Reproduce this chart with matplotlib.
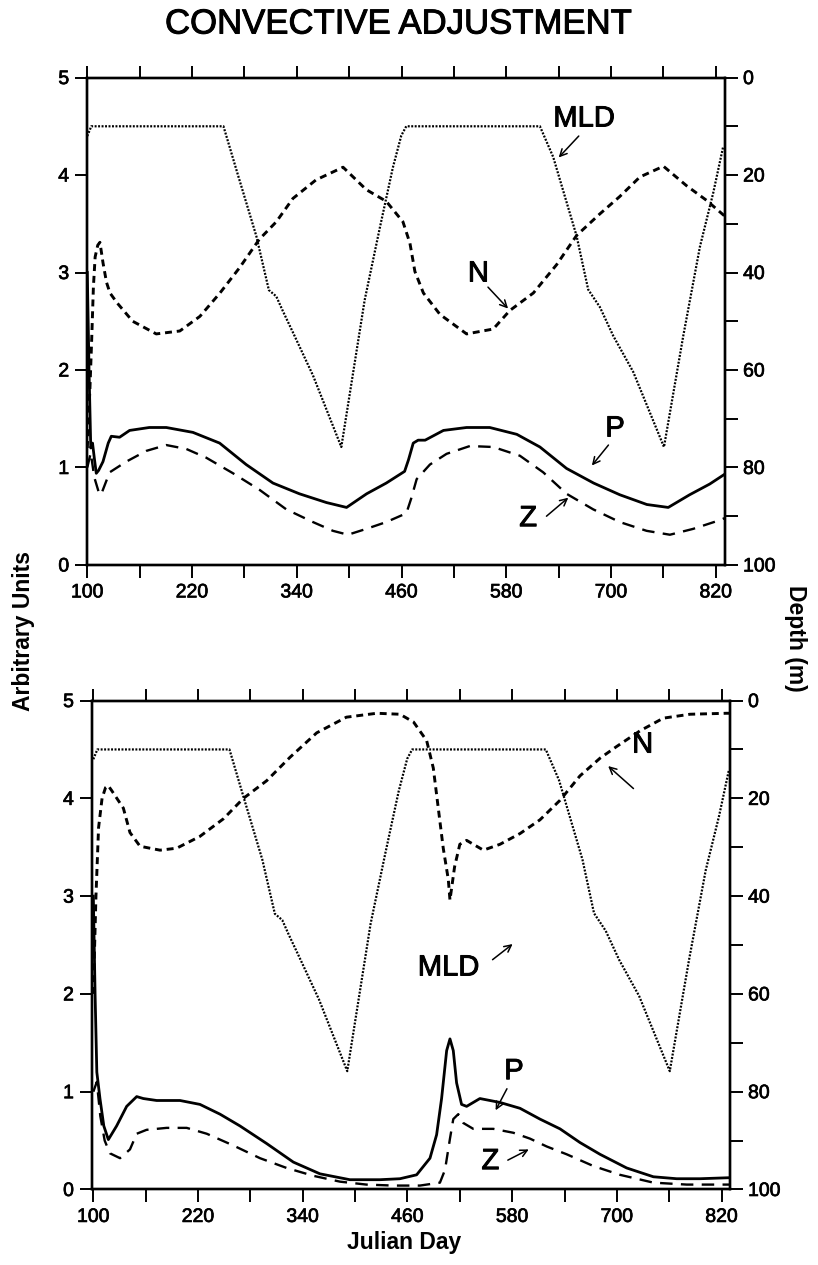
import matplotlib
matplotlib.use('Agg')
import matplotlib.pyplot as plt
import matplotlib.patheffects as pe
from matplotlib.ticker import FixedLocator

plt.rcParams['font.family'] = ['Liberation Sans', 'DejaVu Sans']
plt.rcParams['lines.scale_dashes'] = False

# ---- data ----
# mixed layer depth (m), same forcing in both runs
mld_day = [100, 104.6, 256, 272.6, 293.6, 308, 316.5, 324, 335.6, 358.5, 391, 417.7, 434.9, 450, 459.7,
           465.4, 618.5, 633.7, 660.5, 673.8, 687.2, 702.5, 725.4, 760.6, 782.7, 801.8, 817.1, 828.5]
mld_depth = [12, 10, 10, 20, 32.5, 43.6, 44.9, 47.9, 52.3, 61.1, 75.8, 45.7, 31, 18.5, 11.9,
             10, 10, 16.3, 32.5, 43.5, 47.1, 53, 60.4, 75.8, 53, 34.7, 23.6, 14.1]

# top panel
n1_day = [100, 103, 105, 107, 109, 112, 114.5, 118, 122, 126, 134, 152, 179, 206, 229, 252, 274.5, 297,
          316.5, 335.6, 362, 393, 419.6, 442.5, 461.6, 469.6, 475.3, 485, 504, 534.5, 565, 584, 611,
          637.6, 660.5, 687, 710, 733, 760, 786.5, 809.4, 830]
n1 = [1.2, 1.8, 2.3, 2.85, 3.16, 3.28, 3.31, 3.1, 2.9, 2.79, 2.69, 2.50, 2.37, 2.40, 2.55, 2.79, 3.05, 3.34,
      3.52, 3.76, 3.95, 4.08, 3.85, 3.73, 3.52, 3.30, 3.01, 2.79, 2.57, 2.37, 2.42, 2.61, 2.79,
      3.08, 3.38, 3.60, 3.78, 3.98, 4.09, 3.89, 3.74, 3.58]

p1_day = [100, 102, 104, 106, 108, 110.3, 113, 118, 124, 127.5, 137, 148.5, 171, 190.5, 221, 251.6, 282,
          312.7, 343, 374, 397, 420, 442.5, 463.5, 468, 473.4, 479, 487, 508, 534.5, 561, 592, 618.5,
          649, 680, 710, 741, 765.5, 790, 813, 830]
p1 = [3.0, 2.0, 1.2, 1.25, 1.1, 0.94, 0.97, 1.06, 1.25, 1.32, 1.31, 1.38, 1.41, 1.41, 1.36, 1.25, 1.03,
      0.84, 0.73, 0.64, 0.59, 0.73, 0.84, 0.96, 1.08, 1.25, 1.28, 1.28, 1.38, 1.41, 1.41, 1.34, 1.21,
      0.99, 0.84, 0.72, 0.62, 0.59, 0.72, 0.83, 0.93]

z1_day = [100, 104, 108, 114, 117, 125.6, 144.7, 167.6, 190.5, 213.4, 236.3, 267, 297.4, 328, 358.5,
          381.4, 398.6, 419.6, 442.5, 465.5, 471, 477.3, 492.5, 511.6, 538.3, 565, 595.6, 622.3, 649,
          679.6, 710, 740.7, 767.4, 794, 824.7, 830]
z1 = [1.0, 1.15, 0.9, 0.72, 0.75, 0.95, 1.06, 1.17, 1.23, 1.19, 1.10, 0.94, 0.77, 0.57, 0.44,
      0.35, 0.31, 0.37, 0.44, 0.53, 0.68, 0.88, 1.03, 1.14, 1.22, 1.21, 1.12, 0.95, 0.73,
      0.57, 0.44, 0.35, 0.31, 0.37, 0.46, 0.48]

# bottom panel
n2_day = [100, 103, 106, 110, 114, 117, 121, 134.4, 142, 153.5, 176.4, 195.5, 222, 249, 272, 298.6, 325.4,
          356, 390, 424.7, 451.4, 467, 482, 489.6, 495.3, 501, 506.8, 508.7, 514, 520, 527.8, 547,
          566, 589, 611.8, 634.8, 657.7, 680.6, 699.7, 726.4, 753.2, 783.7, 825.7, 830]
n2 = [2.0, 3.0, 3.7, 4.0, 4.11, 4.13, 4.08, 3.90, 3.65, 3.51, 3.47, 3.49, 3.61, 3.79, 4.00, 4.18, 4.42,
      4.67, 4.83, 4.87, 4.86, 4.78, 4.59, 4.31, 3.90, 3.49, 3.17, 2.96, 3.3, 3.53, 3.57, 3.47,
      3.53, 3.64, 3.78, 3.98, 4.23, 4.41, 4.53, 4.69, 4.82, 4.86, 4.87, 4.87]

p2_day = [100, 102, 104, 107.6, 112, 117.2, 126.7, 138.2, 149.7, 157.3, 172.6, 199.3, 222.2, 245.2, 268,
          298.6, 329.2, 359.7, 394, 428.5, 451.4, 470.5, 485.8, 493.4, 499.1, 504.9, 508.7, 512.5,
          516.3, 522, 527.8, 543, 566, 589, 611.8, 634.8, 657.7, 680.6, 711.2, 741.8, 768.5, 795.3,
          827.7, 830]
p2 = [3.0, 2.0, 1.2, 0.93, 0.65, 0.51, 0.65, 0.85, 0.95, 0.93, 0.91, 0.91, 0.87, 0.77, 0.65,
      0.47, 0.28, 0.16, 0.10, 0.10, 0.11, 0.15, 0.32, 0.56, 0.93, 1.42, 1.54, 1.42,
      1.09, 0.87, 0.85, 0.93, 0.89, 0.83, 0.72, 0.62, 0.48, 0.36, 0.22, 0.13, 0.11, 0.11,
      0.12, 0.12]

z2_day = [100, 104, 108, 113, 119, 130.6, 142, 149.7, 161, 184, 207, 230, 260.4, 291, 321.5, 352, 382.7,
          413, 443.8, 474.3, 497.2, 503, 508.7, 512.5, 518.2, 524, 535.4, 558.4, 581.3, 600.4, 619.5,
          642.4, 673, 703.5, 741.8, 780, 825.7, 830]
z2 = [1.0, 1.1, 0.75, 0.5, 0.37, 0.32, 0.41, 0.57, 0.61, 0.63, 0.63, 0.57, 0.45, 0.32, 0.22, 0.14, 0.08,
      0.05, 0.04, 0.04, 0.07, 0.20, 0.52, 0.72, 0.77, 0.68, 0.62, 0.62, 0.58, 0.52, 0.44,
      0.36, 0.24, 0.15, 0.07, 0.05, 0.05, 0.05]

x_ticks = list(range(100, 821, 60))
x_labels = [str(t) if (t - 100) % 120 == 0 else '' for t in x_ticks]
left_ticks = [0, 1, 2, 3, 4, 5]
depth_ticks = [0, 20, 40, 60, 80, 100]
depth_minor = [10, 30, 50, 70, 90]

# labels: (text, text pos, arrow tail, arrow head) in (day, arbitrary units)
notes_top = [('MLD', (669, 4.58), (663, 4.40), (640, 4.18)),
             ('N', (548, 2.99), (559, 2.85), (582, 2.63)),
             ('P', (704.5, 1.40), (697, 1.23), (678, 1.02)),
             ('Z', (605, 0.48), (626, 0.50), (651, 0.69))]
notes_bot = [('N', (729.5, 4.55), (719, 4.10), (690, 4.33)),
             ('MLD', (507, 2.27), (557.5, 2.35), (580.5, 2.51)),
             ('P', (582, 1.21), (574, 1.03), (561, 0.81)),
             ('Z', (555, 0.29), (575, 0.30), (599, 0.41))]

# thicken the text a little, like the printed original
heavy = [pe.withStroke(linewidth=0.7, foreground='black')]

fig = plt.figure(figsize=(8.18, 12.65), dpi=100)


def panel(rect, xlim, n_day, n, p_day, p, z_day, z, notes):
    ax = fig.add_axes(rect)
    ax2 = ax.twinx()
    ax.plot(p_day, p, color='black', lw=2.0, solid_joinstyle='round')
    ax.plot(n_day, n, color='black', lw=2.1, dashes=(5, 3.5))
    ax.plot(z_day, z, color='black', lw=1.7, dashes=(9, 6))
    ax2.plot(mld_day, mld_depth, color='black', lw=1.6, dashes=(1.4, 1.1))

    ax.set_xlim(*xlim)
    ax.set_ylim(0, 5)
    ax2.set_ylim(100, 0)
    ax.xaxis.set_major_locator(FixedLocator(x_ticks))
    ax.set_xticklabels(x_labels)
    ax.set_yticks(left_ticks)
    ax2.set_yticks(depth_ticks)
    ax2.set_yticks(depth_minor, minor=True)

    ax.tick_params(axis='x', which='both', direction='out', top=True, bottom=True,
                   length=9, width=1.4, labelsize=14, pad=5)
    ax.tick_params(axis='y', direction='out', length=9, width=1.4, labelsize=14, pad=4)
    ax2.tick_params(axis='y', which='both', direction='out', length=9, width=1.4,
                    labelsize=14, pad=4)
    for a in (ax, ax2):
        for s in a.spines.values():
            s.set_linewidth(1.7)
    for lab in ax.get_xticklabels() + ax.get_yticklabels() + ax2.get_yticklabels():
        lab.set_path_effects([pe.withStroke(linewidth=0.5, foreground='black')])

    for txt, tpos, tail, head in notes:
        ax.text(tpos[0], tpos[1], txt, fontsize=21, ha='center', va='center', path_effects=heavy)
        ax.annotate('', xy=head, xytext=tail,
                    arrowprops=dict(arrowstyle='->,head_length=0.5,head_width=0.25',
                                    lw=1.1, color='black', shrinkA=0, shrinkB=0))
    return ax


panel([0.1067, 0.5534, 0.7796, 0.3853], (100, 830.5), n1_day, n1, p1_day, p1, z1_day, z1, notes_top)
panel([0.1125, 0.0597, 0.7799, 0.3865], (98.5, 829.6), n2_day, n2, p2_day, p2, z2_day, z2, notes_bot)

fig.text(0.487, 0.981, 'CONVECTIVE ADJUSTMENT', fontsize=25, ha='center', va='center',
         path_effects=heavy)
fig.text(0.0287, 0.5012, 'Arbitrary Units', fontsize=16.5, fontweight='bold', rotation=90,
         ha='center', va='center')
fig.text(0.972, 0.4957, 'Depth (m)', fontsize=16.5, fontweight='bold', rotation=-90,
         ha='center', va='center')
fig.text(0.494, 0.0174, 'Julian Day', fontsize=16.5, fontweight='bold', ha='center', va='center')

fig.savefig('out.png', dpi=100)
